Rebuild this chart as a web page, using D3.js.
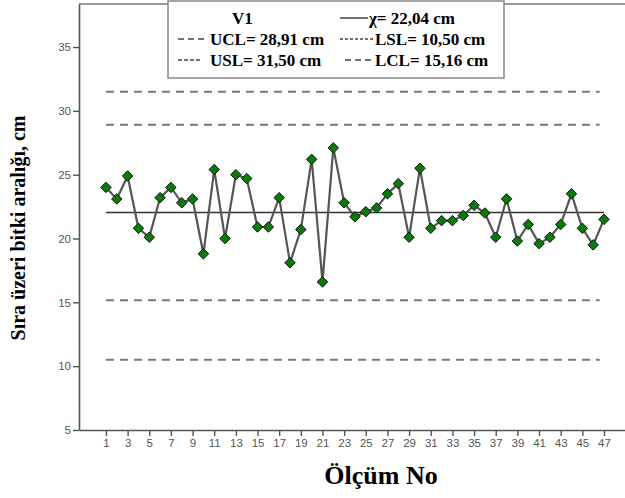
<!DOCTYPE html>
<html>
<head>
<meta charset="utf-8">
<script src="https://cdn.jsdelivr.net/npm/d3@7"></script>
<style>
  body { margin: 0; background: #fff; }
</style>
</head>
<body>
<script>
// measured values, Ölçüm No 1..47
const values = [
  24.0, 23.1, 24.9, 20.8, 20.1, 23.2, 24.0, 22.8, 23.1, 18.8,
  25.4, 20.0, 25.0, 24.7, 20.9, 20.9, 23.2, 18.1, 20.7, 26.2,
  16.6, 27.1, 22.8, 21.7, 22.1, 22.4, 23.5, 24.3, 20.1, 25.5,
  20.8, 21.4, 21.4, 21.8, 22.6, 22.0, 20.1, 23.1, 19.8, 21.1,
  19.6, 20.1, 21.1, 23.5, 20.8, 19.5, 21.5
]
const limitNames = ['USL', 'UCL', 'LCL', 'LSL']
const limitValues = [31.5, 28.91, 15.16, 10.5]
const meanValue = 22.04
const yTicks = [5, 10, 15, 20, 25, 30, 35]
const xTicks = [1, 3, 5, 7, 9, 11, 13, 15, 17, 19, 21, 23, 25, 27, 29, 31, 33, 35, 37, 39, 41, 43, 45, 47]
const legendLeft = ['V1', 'UCL= 28,91 cm', 'USL= 31,50 cm']
const legendRight = ['χ= 22,04 cm', 'LSL= 10,50 cm', 'LCL= 15,16 cm']

const width = 625
const height = 498

const svg = d3.select('body').append('svg')
  .attr('width', width)
  .attr('height', height)

const x = d3.scaleLinear().domain([-1.49, 48.94]).range([79, 625])
const y = d3.scaleLinear().domain([5, 38.37]).range([430, 4])

// frame top line
svg.append('line')
  .attr('x1', x.range()[0]).attr('x2', x.range()[1])
  .attr('y1', y.range()[1]).attr('y2', y.range()[1])
  .style('stroke', '#999').style('stroke-width', 2)

// axes
svg.append('g')
  .attr('transform', `translate(${x.range()[0]},0)`)
  .call(d3.axisLeft(y).tickValues(yTicks).tickSize(6).tickPadding(2).tickSizeOuter(0))
svg.append('g')
  .attr('transform', `translate(0,${y.range()[0]})`)
  .call(d3.axisBottom(x).tickValues(xTicks).tickSize(6).tickPadding(3).tickSizeOuter(0))

svg.selectAll('.domain').style('stroke', '#555').style('stroke-width', 1.6)
svg.selectAll('.tick line').style('stroke', '#555').style('stroke-width', 1.4)
svg.selectAll('.tick text')
  .style('font-family', 'Liberation Sans, Arial, sans-serif')
  .style('font-size', '11.5px')
  .style('fill', '#555')

// control limit lines
svg.selectAll('.limit')
  .data(limitValues)
  .enter().append('line')
  .attr('class', 'limit')
  .attr('x1', x(1)).attr('x2', x(46.6))
  .attr('y1', d => y(d)).attr('y2', d => y(d))
  .style('stroke', '#777')
  .style('stroke-width', 2)
  .style('stroke-dasharray', '8,6')

// mean line
svg.append('line')
  .attr('x1', x(1)).attr('x2', x(47))
  .attr('y1', y(meanValue)).attr('y2', y(meanValue))
  .style('stroke', '#333')
  .style('stroke-width', 1.6)

// data line
const line = d3.line()
  .x((d, i) => x(i + 1))
  .y(d => y(d))

svg.append('path')
  .datum(values)
  .attr('d', line)
  .style('fill', 'none')
  .style('stroke', '#555')
  .style('stroke-width', 2.2)

svg.selectAll('.pt')
  .data(values)
  .enter().append('path')
  .attr('class', 'pt')
  .attr('d', d3.symbol().type(d3.symbolDiamond2).size(70))
  .attr('transform', (d, i) => `translate(${x(i + 1)},${y(d)})`)
  .style('fill', '#0a7a0a')
  .style('stroke', '#111')
  .style('stroke-width', 1)

// legend
const legend = svg.append('g')
legend.append('rect')
  .attr('x', 168).attr('y', 1)
  .attr('width', 336).attr('height', 77)
  .style('fill', '#fff')
  .style('stroke', '#888')
  .style('stroke-width', 1.5)

const legendFont = 'Liberation Serif, Times New Roman, serif'
const rowY = [24, 45, 66]

legend.selectAll('.ll')
  .data(legendLeft)
  .enter().append('text')
  .attr('x', (d, i) => i === 0 ? 232 : 210)
  .attr('y', (d, i) => rowY[i])
  .text(d => d)
  .style('font-family', legendFont)
  .style('font-weight', 'bold')
  .style('font-size', '17px')

legend.selectAll('.lr')
  .data(legendRight)
  .enter().append('text')
  .attr('x', (d, i) => i === 0 ? 369 : 375)
  .attr('y', (d, i) => rowY[i])
  .text(d => d)
  .style('font-family', legendFont)
  .style('font-weight', 'bold')
  .style('font-size', '17px')

// legend samples
const samples = [
  { x1: 340, x2: 368, y: 18, dash: null },
  { x1: 178, x2: 206, y: 39, dash: '6,4' },
  { x1: 340, x2: 373, y: 39, dash: '3,2' },
  { x1: 178, x2: 200, y: 60, dash: '4,2' },
  { x1: 345, x2: 374, y: 60, dash: '6,4' }
]
legend.selectAll('.sample')
  .data(samples)
  .enter().append('line')
  .attr('x1', d => d.x1).attr('x2', d => d.x2)
  .attr('y1', d => d.y).attr('y2', d => d.y)
  .style('stroke', '#444')
  .style('stroke-width', 1.5)
  .style('stroke-dasharray', d => d.dash)

// axis titles
svg.append('text')
  .attr('transform', 'translate(25,228) rotate(-90)')
  .attr('text-anchor', 'middle')
  .text('Sıra üzeri bitki aralığı, cm')
  .style('font-family', legendFont)
  .style('font-weight', 'bold')
  .style('font-size', '20px')

svg.append('text')
  .attr('x', 381).attr('y', 484)
  .attr('text-anchor', 'middle')
  .text('Ölçüm No')
  .style('font-family', legendFont)
  .style('font-weight', 'bold')
  .style('font-size', '26px')
</script>
</body>
</html>
